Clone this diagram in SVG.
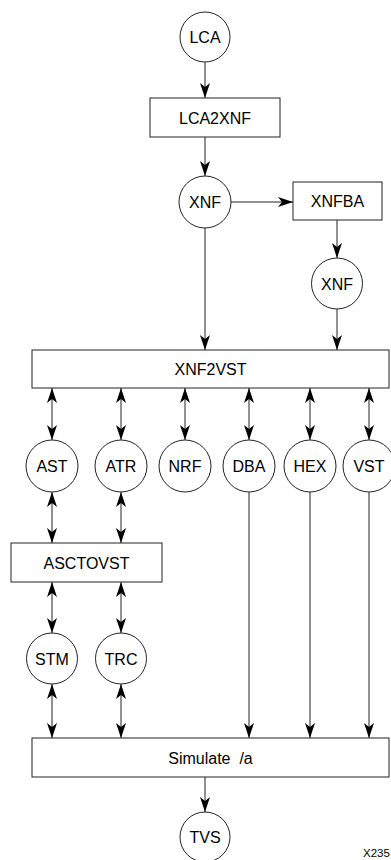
<svg xmlns="http://www.w3.org/2000/svg" width="391" height="860" viewBox="0 0 391 860">
<style>
.n{fill:#fff;stroke:#222;stroke-width:1}
.t{font-family:"Liberation Sans",Arial,sans-serif;font-size:16px;fill:#000;text-anchor:middle}
.c line{stroke:#222;stroke-width:1;fill:none}
.e{marker-end:url(#ah)}
.b{marker-start:url(#ah);marker-end:url(#ah)}
</style>
<defs>
<marker id="ah" viewBox="-16 -6 17 12" refX="0" refY="0" markerWidth="17" markerHeight="12" markerUnits="userSpaceOnUse" orient="auto-start-reverse">
<path d="M0,0 L-15,-5 L-11,0 L-15,5 Z" fill="#000"/>
</marker>
</defs>
<rect width="391" height="860" fill="#fff"/>
<g id="connectors" class="c">
<line class="e" x1="205" y1="62" x2="205" y2="98"/>
<line class="e" x1="205" y1="137" x2="205" y2="176"/>
<line class="e" x1="231" y1="202" x2="293" y2="202"/>
<line class="e" x1="337" y1="220" x2="337" y2="258"/>
<line class="e" x1="205" y1="228" x2="205" y2="350"/>
<line class="e" x1="337" y1="309" x2="337" y2="350"/>
<line class="b" x1="52" y1="388" x2="52" y2="440"/>
<line class="b" x1="121" y1="388" x2="121" y2="440"/>
<line class="b" x1="185" y1="388" x2="185" y2="440"/>
<line class="b" x1="249" y1="388" x2="249" y2="440"/>
<line class="b" x1="310" y1="388" x2="310" y2="440"/>
<line class="b" x1="369" y1="388" x2="369" y2="440"/>
<line class="b" x1="52" y1="492" x2="52" y2="543"/>
<line class="b" x1="121" y1="492" x2="121" y2="543"/>
<line class="b" x1="52" y1="582" x2="52" y2="633"/>
<line class="b" x1="121" y1="582" x2="121" y2="633"/>
<line class="b" x1="52" y1="684" x2="52" y2="738"/>
<line class="b" x1="121" y1="684" x2="121" y2="738"/>
<line class="e" x1="249" y1="492" x2="249" y2="738"/>
<line class="e" x1="310" y1="492" x2="310" y2="738"/>
<line class="e" x1="369" y1="492" x2="369" y2="738"/>
<line class="e" x1="205" y1="777" x2="205" y2="812"/>
</g>
<g id="LCA"><circle class="n" cx="205" cy="37" r="25"/><text class="t" x="205" y="43">LCA</text></g>
<g id="LCA2XNF"><rect class="n" x="150" y="98" width="130" height="39"/><text class="t" x="215" y="123.5">LCA2XNF</text></g>
<g id="XNF1"><circle class="n" cx="205" cy="202" r="26"/><text class="t" x="205" y="208">XNF</text></g>
<g id="XNFBA"><rect class="n" x="293" y="182" width="89" height="38"/><text class="t" x="337.5" y="207">XNFBA</text></g>
<g id="XNF2"><circle class="n" cx="337" cy="283.5" r="25.5"/><text class="t" x="337" y="289.5">XNF</text></g>
<g id="XNF2VST"><rect class="n" x="32" y="350" width="357" height="38"/><text class="t" x="210.5" y="375">XNF2VST</text></g>
<g id="AST"><circle class="n" cx="52" cy="466" r="26"/><text class="t" x="52" y="472">AST</text></g>
<g id="ATR"><circle class="n" cx="121" cy="466" r="26"/><text class="t" x="121" y="472">ATR</text></g>
<g id="NRF"><circle class="n" cx="185" cy="466" r="26"/><text class="t" x="185" y="472">NRF</text></g>
<g id="DBA"><circle class="n" cx="249" cy="466" r="26"/><text class="t" x="249" y="472">DBA</text></g>
<g id="HEX"><circle class="n" cx="310" cy="466" r="26"/><text class="t" x="310" y="472">HEX</text></g>
<g id="VST"><circle class="n" cx="369" cy="466" r="26"/><text class="t" x="369" y="472">VST</text></g>
<g id="ASCTOVST"><rect class="n" x="11" y="543" width="151" height="39"/><text class="t" x="86.5" y="568.5">ASCTOVST</text></g>
<g id="STM"><circle class="n" cx="52" cy="658.5" r="25.5"/><text class="t" x="52" y="664.5">STM</text></g>
<g id="TRC"><circle class="n" cx="121" cy="658.5" r="25.5"/><text class="t" x="121" y="664.5">TRC</text></g>
<g id="Simulate"><rect class="n" x="32" y="738" width="357" height="39"/><text class="t" x="210.5" y="763.5" xml:space="preserve">Simulate  /a</text></g>
<g id="TVS"><circle class="n" cx="205" cy="837" r="25"/><text class="t" x="205" y="843">TVS</text></g>
<text x="363" y="857" style="font-family:'Liberation Sans',Arial,sans-serif;font-size:11.5px;fill:#000">X235</text>
</svg>
